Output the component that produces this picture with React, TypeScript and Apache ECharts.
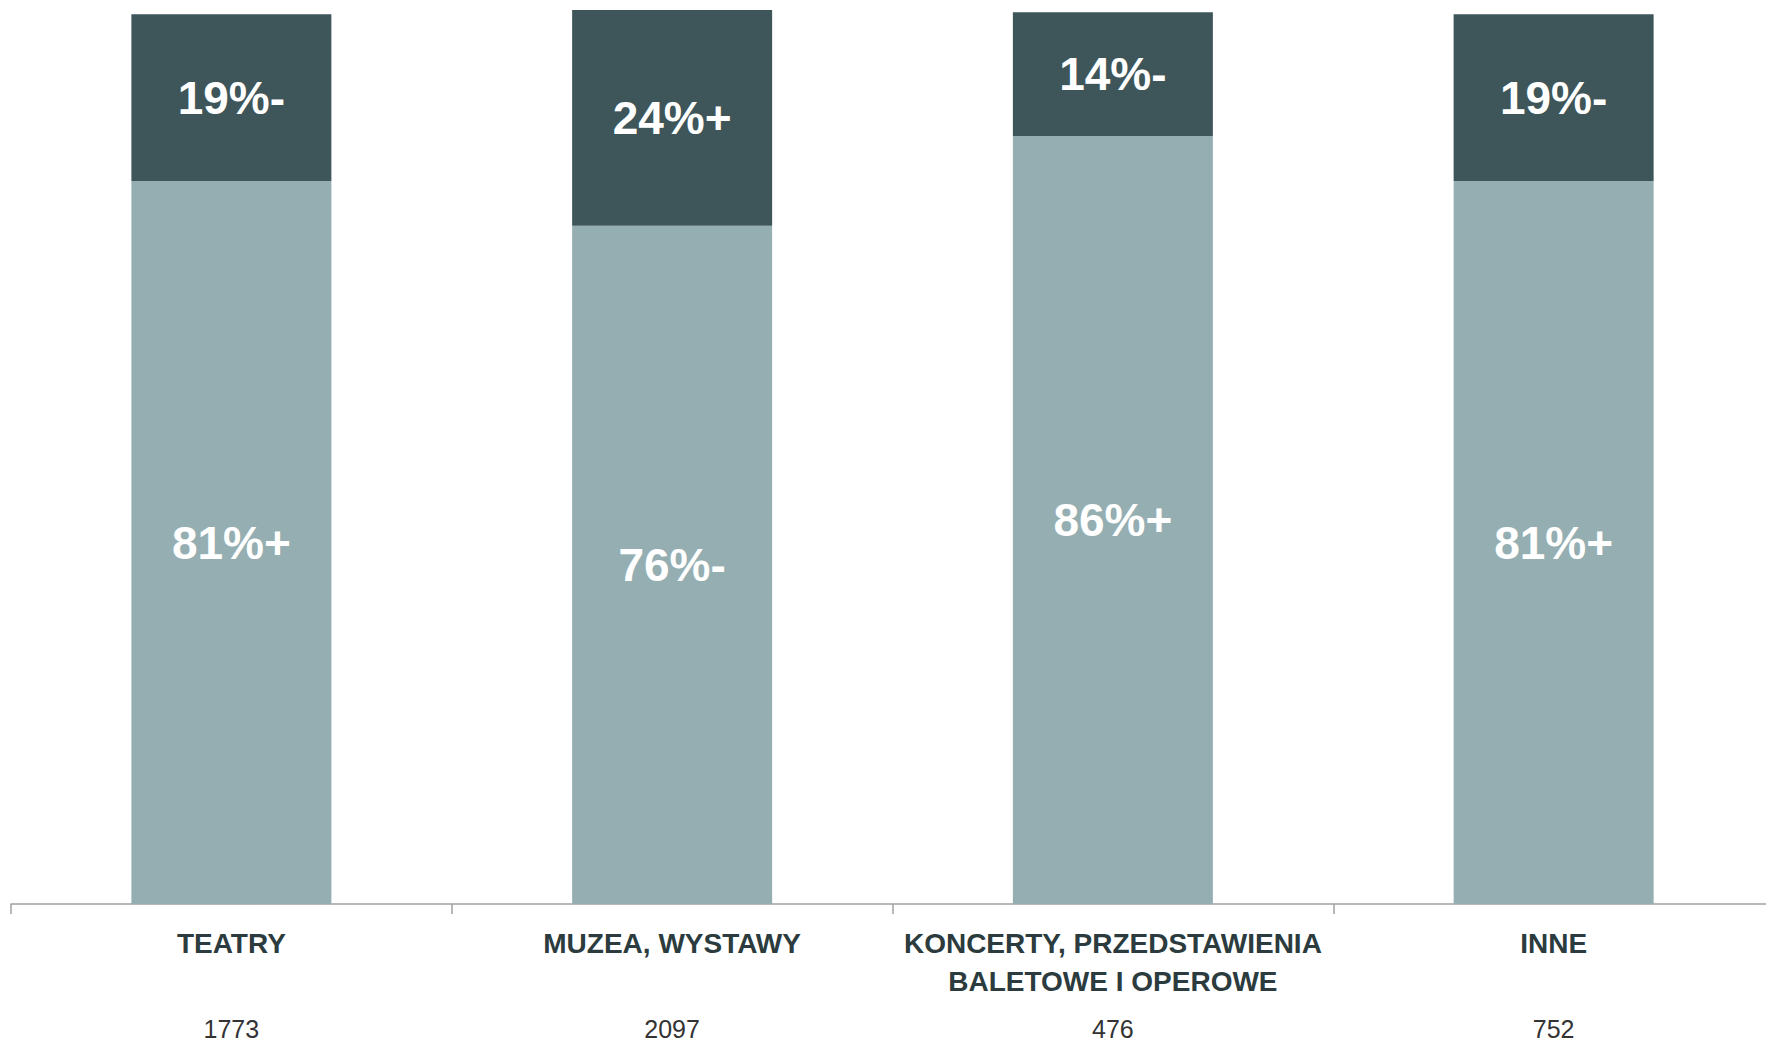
import React, { useEffect, useRef } from "react";
import * as echarts from "echarts";

const categories = [
  "TEATRY",
  "MUZEA, WYSTAWY",
  "KONCERTY, PRZEDSTAWIENIA\nBALETOWE I OPEROWE",
  "INNE",
];
const counts = ["1773", "2097", "476", "752"];
const lightValues = [81.26, 76.24, 86.32, 81.26];
const darkValues = [18.74, 24.24, 13.9, 18.74];
const lightLabels = ["81%+", "76%-", "86%+", "81%+"];
const darkLabels = ["19%-", "24%+", "14%-", "19%-"];

const FONT = '"Liberation Sans Narrow", "Noto Sans Condensed", "Liberation Sans", Arial, sans-serif';

export default function App() {
  const ref = useRef<HTMLDivElement>(null);
  useEffect(() => {
    document.body.style.margin = "0";
    const chart = echarts.init(ref.current!, undefined, { renderer: "svg" });
    const labelStyle = (labels: string[]) => ({
      show: true,
      position: "inside",
      formatter: (p: any) => labels[p.dataIndex],
      color: "#ffffff",
      fontFamily: FONT,
      fontWeight: "bold",
      fontSize: 46,
    });
    chart.setOption({
      animation: false,
      backgroundColor: "#ffffff",
      grid: {
        left: 11,
        top: 5.4,
        width: 1763,
        height: 898.6,
        containLabel: false,
        outerBoundsMode: "none",
      },
      xAxis: [
        {
          type: "category",
          data: categories,
          axisLine: { show: true, lineStyle: { color: "#a0a0a0", width: 1.5 } },
          axisTick: { show: true, length: 10, lineStyle: { color: "#a0a0a0", width: 1.5 } },
          axisLabel: {
            interval: 0,
            margin: 20,
            color: "#2b3b3e",
            fontFamily: FONT,
            fontWeight: "bold",
            fontSize: 28,
            lineHeight: 38,
          },
        },
        {
          type: "category",
          position: "bottom",
          data: counts,
          axisLine: { show: false },
          axisTick: { show: false },
          axisLabel: {
            interval: 0,
            margin: 113,
            color: "#333333",
            fontFamily: FONT,
            fontSize: 25,
            lineHeight: 24,
          },
        },
      ],
      yAxis: { type: "value", min: 0, max: 101, show: false, splitLine: { show: false } },
      series: [
        {
          type: "bar",
          stack: "s",
          data: lightValues,
          barWidth: 200,
          itemStyle: { color: "#95aeb2" },
          label: labelStyle(lightLabels),
        },
        {
          type: "bar",
          stack: "s",
          data: darkValues,
          barWidth: 200,
          itemStyle: { color: "#3e565a" },
          label: labelStyle(darkLabels),
        },
      ],
    });
    return () => chart.dispose();
  }, []);
  return (
    <div
      ref={ref}
      style={{ position: "absolute", left: 0, top: 0, width: 1766, height: 1043 }}
    />
  );
}
